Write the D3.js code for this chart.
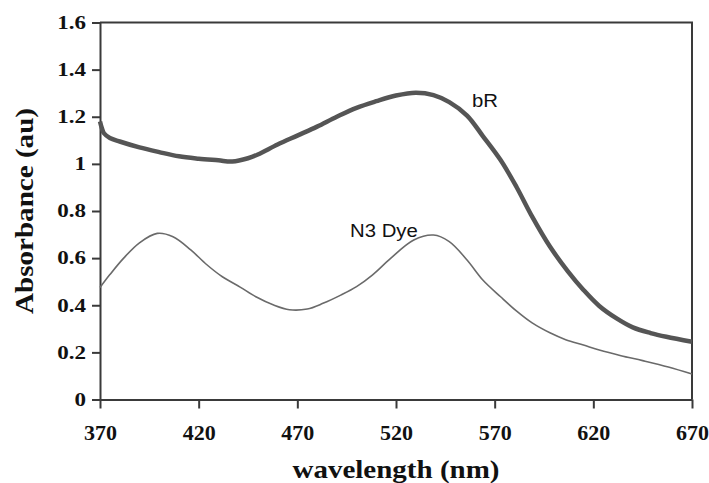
<!DOCTYPE html>
<html lang="en">
<head>
    <meta charset="UTF-8">
    <title>Absorbance</title>
    <script src="https://cdn.jsdelivr.net/npm/d3@7/dist/d3.min.js"></script>
    <style>
        body { margin: 0; background: #fff; }
    </style>
</head>
<body>
<script>
    // wavelength (nm) / absorbance (au)
    const bRWave = [370, 371, 372, 375, 380, 390, 400, 410, 420, 430, 437, 445, 450, 460, 470, 480, 490, 500, 510, 520, 530, 539, 547, 556, 564, 573, 581, 589, 598, 607, 615, 623, 632, 640, 649, 657, 670]
    const bRAbs = [1.18, 1.15, 1.13, 1.11, 1.095, 1.07, 1.05, 1.032, 1.022, 1.015, 1.01, 1.024, 1.04, 1.082, 1.12, 1.158, 1.2, 1.238, 1.266, 1.29, 1.302, 1.292, 1.262, 1.205, 1.118, 1.016, 0.903, 0.776, 0.649, 0.545, 0.465, 0.397, 0.343, 0.306, 0.282, 0.266, 0.245]

    const dyeWave = [370, 375, 382, 390, 399, 407, 416, 424, 432, 441, 449, 458, 466, 475, 483, 492, 500, 508, 517, 529, 539, 547, 556, 564, 573, 581, 589, 598, 606, 615, 623, 634, 645, 658, 670]
    const dyeAbs = [0.475, 0.53, 0.6, 0.665, 0.705, 0.691, 0.635, 0.573, 0.521, 0.477, 0.436, 0.401, 0.381, 0.384, 0.408, 0.443, 0.479, 0.528, 0.597, 0.677, 0.698, 0.67, 0.592, 0.507, 0.436, 0.376, 0.325, 0.283, 0.254, 0.231, 0.21, 0.186, 0.165, 0.138, 0.108]

    const xTicks = [370, 420, 470, 520, 570, 620, 670]
    const yTicks = [0, 0.2, 0.4, 0.6, 0.8, 1, 1.2, 1.4, 1.6]

    const seriesNames = ['bR', 'N3 Dye']
    const labelAt = [[558.5, 1.241], [496.7, 0.69]]

    const [width, height] = [709, 483]
    const margin = {left: 100, right: 17, top: 22.5, bottom: 83.5}

    const x = d3.scaleLinear().domain([370, 670]).range([margin.left, width - margin.right])
    const y = d3.scaleLinear().domain([0, 1.6]).range([height - margin.bottom, margin.top])

    const svg = d3.select('body').append('svg')
        .attr('width', width)
        .attr('height', height)

    const axisColor = '#3a3a3a'
    const serif = '"Liberation Serif", "Times New Roman", serif'

    // frame top + right
    svg.append('path')
        .attr('d', `M${x(370)},${y(1.6)}H${x(670)}V${y(0)}`)
        .attr('fill', 'none')
        .attr('stroke', axisColor)
        .attr('stroke-width', 2)

    const gx = svg.append('g')
        .attr('transform', `translate(0,${y(0)})`)
        .call(d3.axisBottom(x).tickValues(xTicks).tickSize(9).tickSizeOuter(0).tickFormat(d3.format('d')))
    const gy = svg.append('g')
        .attr('transform', `translate(${x(370)},0)`)
        .call(d3.axisLeft(y).tickValues(yTicks).tickSize(8).tickSizeOuter(0).tickFormat(d => String(d)))

    ;[gx, gy].forEach(g => {
        g.select('.domain').attr('stroke', axisColor).attr('stroke-width', 2)
        g.selectAll('.tick line').attr('stroke', axisColor).attr('stroke-width', 2)
        g.selectAll('.tick text')
            .attr('fill', '#111')
            .style('font-family', serif)
            .style('font-weight', 'bold')
    })
    gx.selectAll('.tick text').attr('y', 40).attr('dy', 0).style('font-size', '22px')
    // y labels in the picture are wider than plain Times
    gy.selectAll('.tick text').style('font-size', '18px')
        .attr('x', -14 / 1.28).attr('transform', 'scale(1.28,1)')

    const line = d3.line()
        .x(d => x(d[0]))
        .y(d => y(d[1]))
        .curve(d3.curveCatmullRom)

    svg.append('path')
        .datum(d3.zip(dyeWave, dyeAbs))
        .attr('fill', 'none')
        .attr('stroke', '#6a6a6a')
        .attr('stroke-width', 1.6)
        .attr('d', line)

    svg.append('path')
        .datum(d3.zip(bRWave, bRAbs))
        .attr('fill', 'none')
        .attr('stroke', '#555')
        .attr('stroke-width', 4.5)
        .attr('d', line)

    seriesNames.forEach((name, i) => {
        svg.append('text')
            .attr('transform', `translate(${x(labelAt[i][0])},${y(labelAt[i][1])}) scale(1.13,1)`)
            .style('font-family', '"Liberation Sans", Arial, sans-serif')
            .style('font-size', '18px')
            .attr('fill', '#111')
            .text(name)
    })

    svg.append('text')
        .attr('x', (x(370) + x(670)) / 2)
        .attr('y', 478)
        .attr('text-anchor', 'middle')
        .attr('textLength', 207)
        .attr('lengthAdjust', 'spacingAndGlyphs')
        .style('font-family', serif)
        .style('font-weight', 'bold')
        .style('font-size', '25px')
        .attr('fill', '#111')
        .text('wavelength (nm)')

    svg.append('text')
        .attr('transform', `translate(33,${(y(0) + y(1.6)) / 2}) rotate(-90)`)
        .attr('text-anchor', 'middle')
        .attr('textLength', 206)
        .attr('lengthAdjust', 'spacingAndGlyphs')
        .style('font-family', serif)
        .style('font-weight', 'bold')
        .style('font-size', '26px')
        .attr('fill', '#111')
        .text('Absorbance (au)')
</script>
</body>
</html>
